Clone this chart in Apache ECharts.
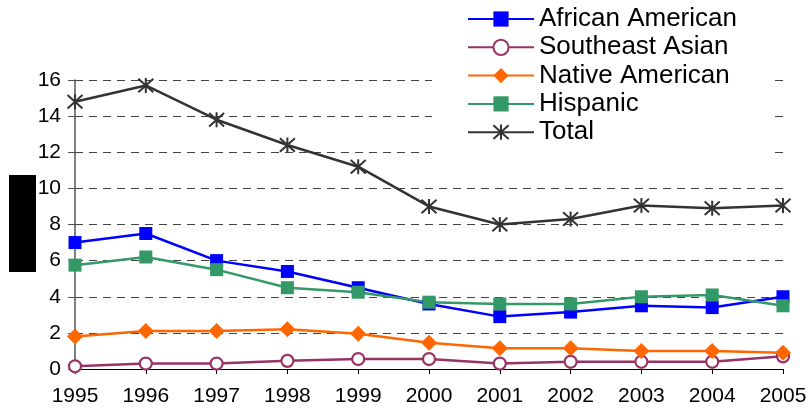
<!DOCTYPE html>
<html>
<head>
<meta charset="utf-8">
<script src="https://cdn.jsdelivr.net/npm/echarts@6/dist/echarts.min.js"></script>
<style>
  html, body { margin: 0; padding: 0; background: #fff; }
  #chart { width: 812px; height: 415px; }
</style>
</head>
<body>
<div id="chart"></div>
<script>
// 数据
var years = ['1995', '1996', '1997', '1998', '1999', '2000', '2001', '2002', '2003', '2004', '2005'];
var africanAmerican = [7.0, 7.5, 6.0, 5.4, 4.5, 3.6, 2.9, 3.15, 3.5, 3.4, 4.0];
var southeastAsian = [0.15, 0.3, 0.3, 0.45, 0.55, 0.55, 0.3, 0.4, 0.4, 0.4, 0.7];
var nativeAmerican = [1.8, 2.1, 2.1, 2.2, 1.95, 1.45, 1.15, 1.15, 1.0, 1.0, 0.9];
var hispanic = [5.75, 6.2, 5.5, 4.5, 4.25, 3.7, 3.6, 3.6, 4.0, 4.1, 3.5];
var total = [14.8, 15.7, 13.8, 12.4, 11.2, 9.0, 8.0, 8.3, 9.05, 8.9, 9.05];

var font = 'Liberation Sans, Arial, sans-serif';
// 星形标记（竖线加两条斜线）
var star = 'path://M0,-10L0,10M-8,-9L8,9M-8,9L8,-9';

var chart = echarts.init(document.getElementById('chart'));

function line(name, data, color, symbol, size, extra) {
  var s = {
    name: name,
    type: 'line',
    data: data,
    symbol: symbol,
    symbolSize: size,
    showAllSymbol: true,
    lineStyle: { color: color, width: 2.5 },
    itemStyle: { color: color },
    z: 3
  };
  for (var k in extra) s[k] = extra[k];
  return s;
}

var option = {
  animation: false,
  backgroundColor: '#fff',
  grid: { left: 75, right: 29, top: 80, bottom: 46 },
  legend: {
    orient: 'vertical',
    left: 432,
    top: 0,
    padding: [6, 33, 14, 35],
    backgroundColor: '#fff',
    itemWidth: 66,
    itemHeight: 19,
    itemGap: 2.3,
    textStyle: { fontFamily: font, fontSize: 26, color: '#000', lineHeight: 26 },
    data: ['African American', 'Southeast Asian', 'Native American', 'Hispanic', 'Total']
  },
  xAxis: {
    type: 'category',
    boundaryGap: false,
    data: years,
    axisLine: { lineStyle: { color: '#000', width: 1 } },
    axisTick: { show: true, length: 5, lineStyle: { color: '#000' } },
    axisLabel: { fontFamily: font, fontSize: 21, color: '#000', margin: 17 }
  },
  yAxis: {
    type: 'value',
    min: 0,
    max: 16,
    interval: 2,
    axisLine: { show: true, lineStyle: { color: '#555', width: 1.5 } },
    axisTick: { show: true, length: 7, lineStyle: { color: '#555' } },
    axisLabel: { fontFamily: font, fontSize: 21, color: '#000', margin: 14 },
    splitLine: { lineStyle: { color: '#444', type: [8, 6], width: 1 } }
  },
  graphic: [{
    type: 'rect',
    left: 9,
    top: 175,
    shape: { width: 27, height: 97 },
    style: { fill: '#000' }
  }],
  series: [
    line('African American', africanAmerican, '#0000ff', 'rect', 13),
    line('Southeast Asian', southeastAsian, '#993366', 'circle', 12,
      { itemStyle: { color: '#fff', borderColor: '#993366', borderWidth: 2.2 } }),
    line('Native American', nativeAmerican, '#ff6600', 'diamond', 16),
    line('Hispanic', hispanic, '#339966', 'rect', 13),
    line('Total', total, '#333333', star, 15,
      { itemStyle: { color: '#333333', borderColor: '#333333', borderWidth: 2 } })
  ]
};

chart.setOption(option);
</script>
</body>
</html>
